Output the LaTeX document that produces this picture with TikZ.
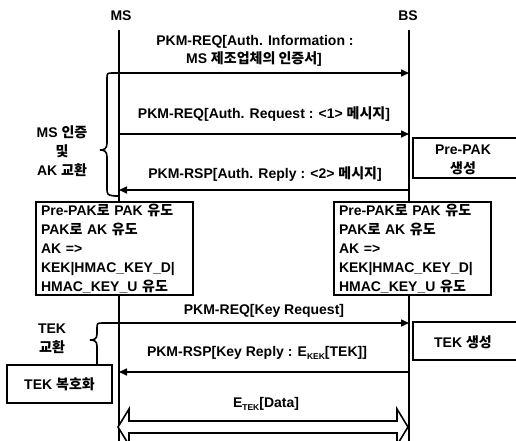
\documentclass[tikz,border=0pt]{standalone}
\usepackage{fontspec}
\setmainfont{Liberation Sans}
\newfontfamily\kr{Noto Sans CJK KR}
\usetikzlibrary{arrows.meta}
\newcommand\mysub[1]{\raisebox{-2.5pt}{\fontsize{8.5}{8.5}\selectfont #1}}
\begin{document}
\begin{tikzpicture}[x=1pt,y=-1pt,
  every node/.style={font=\fontsize{14}{19}\selectfont\bfseries, inner sep=0pt},
  life/.style={line width=1.4pt},
  msg/.style={line width=1.6pt, -{Triangle[length=8pt,width=7pt]}},
  brace/.style={line width=1.6pt},
  box/.style={draw, line width=1.3pt, fill=white},
  tbox/.style={box, align=left, text width=147pt, inner xsep=5pt, inner ysep=2pt, minimum height=93pt},
  fat/.style={draw, line width=1.6pt, fill=white, line join=miter}]
\useasboundingbox (0,0) rectangle (516,441);
\clip (0,0) rectangle (516,441);

% participants
\node (ms) at (121,16) {MS};
\node (bs) at (408,16) {BS};
\coordinate (msT) at (119,30);
\coordinate (msB) at (119,445);
\coordinate (bsT) at (409,30);
\coordinate (bsB) at (409,445);
\draw[life] (msT) -- (msB);
\draw[life] (bsT) -- (bsB);

% message anchors
\coordinate (m1) at (119,73);   \coordinate (b1) at (409,73);
\coordinate (m2) at (119,134);  \coordinate (b2) at (409,134);
\coordinate (m3) at (119,190);  \coordinate (b3) at (409,190);
\coordinate (m4) at (119,323);  \coordinate (b4) at (409,323);
\coordinate (m5) at (119,372);  \coordinate (b5) at (409,372);
\coordinate (m6) at (119,196);

% message 1
\node (t1a) at (255,42) {PKM-REQ[Auth. Information :};
\node (t1b) at (254,59) {MS {\kr 제조업체의 인증서}]};
\draw[msg] (m1) -- (b1);
% brace 1
\draw[brace] (m1) -- (113,73) .. controls (107,73) .. (107,79) -- (107,143)
  .. controls (107,149) and (104,150) .. (100,150)
  .. controls (104,150) and (107,151) .. (107,157) -- (107,187)
  .. controls (107,195) .. (115,196) -- (m6);
\node (l1) at (62,132) {MS {\kr 인증}};
\node (l2) at (62,151) {{\kr 및}};
\node (l3) at (62,170) {AK {\kr 교환}};

% message 2
\node (t2) at (264,114) {PKM-REQ[Auth. Request : <1> {\kr 메시지}]};
\draw[msg] (m2) -- (b2);
\node[box, minimum width=105pt, minimum height=40pt] (pp) at (465.5,158) {};
\node (pp1) at (463,150) {Pre-PAK};
\node (pp2) at (463,168) {{\kr 생성}};

% message 3
\node (t3) at (265,174) {PKM-RSP[Auth. Reply : <2> {\kr 메시지}]};
\draw[msg] (b3) -- (m3);

% key derivation boxes
\node[tbox] (lb) at (114.5,248.5) {Pre-PAK{\kr 로} PAK {\kr 유도}\\PAK{\kr 로} AK {\kr 유도}\\AK =>\\KEK|HMAC\_KEY\_D|\\HMAC\_KEY\_U {\kr 유도}};
\node[tbox] (rb) at (412.5,248.5) {Pre-PAK{\kr 로} PAK {\kr 유도}\\PAK{\kr 로} AK {\kr 유도}\\AK =>\\KEK|HMAC\_KEY\_D|\\HMAC\_KEY\_U {\kr 유도}};

% message 4
\node (t4) at (264,311) {PKM-REQ[Key Request]};
\draw[msg] (m4) -- (b4);
\node[box, minimum width=105pt, minimum height=38pt] (tg) at (465.5,341) {};
\node (tg1) at (463,342) {TEK {\kr 생성}};

% brace 2 and TEK decrypt box
\node[box, minimum width=105pt, minimum height=38pt] (td) at (59.5,384) {TEK {\kr 복호화}};
\coordinate (br2) at (97,365);
\draw[brace] (m4) -- (103,323) .. controls (97,323) .. (97,329) -- (97,334)
  .. controls (97,339) and (94,340) .. (90,340)
  .. controls (94,340) and (97,341) .. (97,346) -- (br2);
\node (l4) at (52,329) {TEK};
\node (l5) at (52,347) {{\kr 교환}};

% message 5
\node (t5) at (257,353) {PKM-RSP[Key Reply : E\mysub{KEK}[TEK]]};
\draw[msg] (b5) -- (m5);

% message 6 (fat double arrow)
\node (t6) at (266,404) {E\mysub{TEK}[Data]};
\coordinate (lt) at (118,427);
\coordinate (rt) at (408,427);
\draw[fat] (lt) -- (129,409) -- (129,421) -- (397,421) -- (397,409) -- (rt)
  -- (397,445) -- (397,433) -- (129,433) -- (129,445) -- cycle;
\end{tikzpicture}
\end{document}
